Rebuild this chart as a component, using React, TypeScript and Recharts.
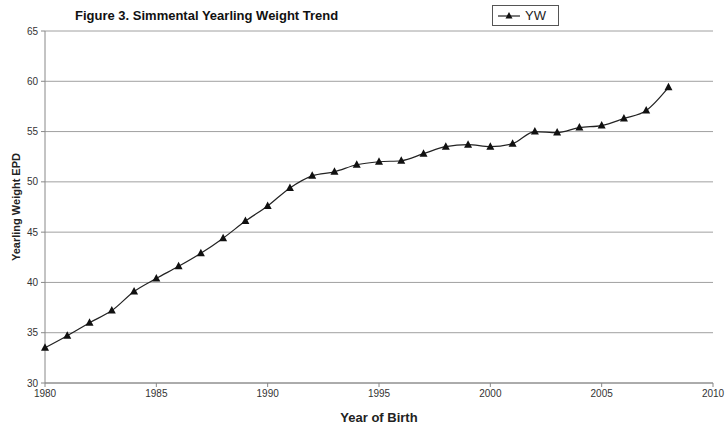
import React from "react";
import { LineChart, Line, XAxis, YAxis, CartesianGrid, Label } from "recharts";

const years = [
  1980, 1981, 1982, 1983, 1984, 1985, 1986, 1987, 1988, 1989, 1990, 1991, 1992, 1993, 1994,
  1995, 1996, 1997, 1998, 1999, 2000, 2001, 2002, 2003, 2004, 2005, 2006, 2007, 2008,
];
const yw = [
  33.5, 34.7, 36.0, 37.2, 39.1, 40.4, 41.6, 42.9, 44.4, 46.1, 47.6, 49.4, 50.6, 51.0, 51.7,
  52.0, 52.1, 52.8, 53.5, 53.7, 53.5, 53.8, 55.0, 54.9, 55.4, 55.6, 56.3, 57.1, 59.4,
];
const xTicks = [1980, 1985, 1990, 1995, 2000, 2005, 2010];
const yTicks = [30, 35, 40, 45, 50, 55, 60, 65];

const data = years.map((year, i) => ({ year, YW: yw[i] }));

const FONT = "Arial, 'Liberation Sans', sans-serif";

function Triangle({ cx, cy }: any) {
  if (cx == null || cy == null) return null;
  return (
    <polygon
      points={`${cx},${cy - 4.5} ${cx - 4},${cy + 3} ${cx + 4},${cy + 3}`}
      fill="#111"
    />
  );
}

function LegendBox() {
  return (
    <div
      style={{
        position: "absolute",
        left: 492,
        top: 5,
        border: "1px solid #555",
        background: "#fff",
        width: 67,
        height: 21,
        display: "flex",
        alignItems: "center",
        fontFamily: FONT,
        fontSize: 13,
        color: "#222",
        boxSizing: "border-box",
      }}
    >
      <svg width={28} height={18} style={{ marginLeft: 3 }}>
        <line x1={2} y1={9} x2={24} y2={9} stroke="#222" strokeWidth={1.2} />
        <polygon points="13,5 9.5,11.5 16.5,11.5" fill="#111" />
      </svg>
      <span style={{ marginLeft: 1 }}>YW</span>
    </div>
  );
}

export default function App() {
  return (
    <div style={{ position: "absolute", left: 0, top: 0, width: 725, height: 425, background: "#fff" }}>
      <LineChart
        width={725}
        height={425}
        data={data}
        margin={{ top: 31, right: 12, left: 0, bottom: 12 }}
      >
        <CartesianGrid vertical={false} stroke="#a0a0a0" strokeWidth={1} />
        <XAxis
          dataKey="year"
          type="number"
          domain={[1980, 2010]}
          ticks={xTicks}
          height={30}
          stroke="#888"
          tickSize={4}
          tick={{ fill: "#333", fontSize: 10, fontFamily: FONT }}
          tickMargin={3}
        >
          <Label
            value="Year of Birth"
            position="bottom"
            offset={0}
            style={{ fill: "#222", fontSize: 13, fontWeight: "bold", fontFamily: FONT }}
          />
        </XAxis>
        <YAxis
          type="number"
          domain={[30, 65]}
          ticks={yTicks}
          width={45}
          stroke="#888"
          tickSize={4}
          tickMargin={3}
          tick={{ fill: "#333", fontSize: 10, fontFamily: FONT }}
        >
          <Label
            value="Yearling Weight EPD"
            angle={-90}
            position="insideLeft"
            offset={16}
            style={{ fill: "#222", fontSize: 11, fontWeight: "bold", fontFamily: FONT, textAnchor: "middle" }}
          />
        </YAxis>
        <Line
          type="monotone"
          dataKey="YW"
          stroke="#222"
          strokeWidth={1.2}
          dot={<Triangle />}
          activeDot={false}
          isAnimationActive={false}
        />
      </LineChart>
      <div
        style={{
          position: "absolute",
          left: 75,
          top: 8,
          fontFamily: FONT,
          fontWeight: "bold",
          fontSize: 13,
          color: "#111",
        }}
      >
        Figure 3. Simmental Yearling Weight Trend
      </div>
      <LegendBox />
    </div>
  );
}
